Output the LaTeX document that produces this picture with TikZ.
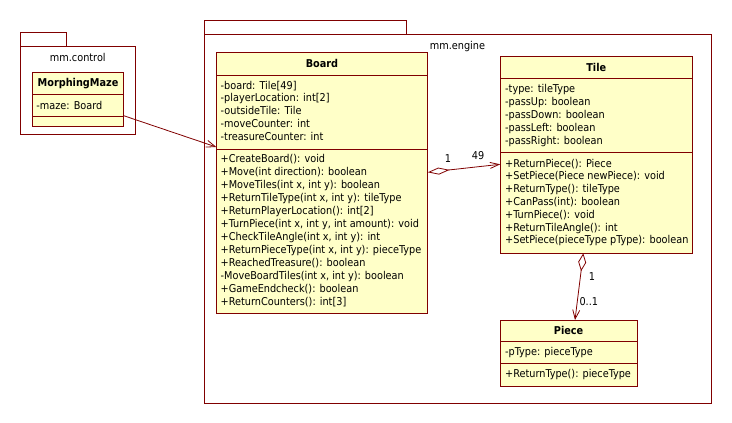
\documentclass[tikz,border=0pt]{standalone}
\usepackage{fontspec}
\setmainfont{DejaVu Sans Condensed}
\usetikzlibrary{arrows.meta}
\definecolor{umlred}{RGB}{128,0,0}
\definecolor{umlfill}{RGB}{255,255,200}
\begin{document}
\begin{tikzpicture}[x=1pt,y=-1pt,
  box/.style={draw=umlred, line width=1pt, rectangle, inner sep=0pt, outer sep=0pt, anchor=north west},
  cls/.style={box, fill=umlfill},
  sep/.style={draw=umlred, line width=1pt},
  cname/.style={font=\fontsize{10.8}{12.8}\selectfont\bfseries, inner sep=0pt, anchor=base, text=black},
  plabel/.style={font=\fontsize{10.8}{12.8}\selectfont, inner sep=0pt, anchor=base, text=black},
  members/.style={font=\fontsize{10.8}{12.8}\selectfont, inner sep=0pt, anchor=north west, align=left, text=black},
  mult/.style={font=\fontsize{10.8}{12.8}\selectfont, inner sep=0pt, anchor=center, text=black},
  conn/.style={draw=umlred, line width=0.8pt},
]
\useasboundingbox (0,0) rectangle (732,423);
% packages
\node[box, minimum width=46pt, minimum height=13.7pt] (ctrltab) at (20,32.3) {};
\node[box, minimum width=115.7pt, minimum height=88.3pt] (ctrl) at (20,46) {};
\node[plabel] (ctrllbl) at (77.8,61.7) {mm.control};
\node[box, minimum width=202.4pt, minimum height=13.6pt] (engtab) at (204.3,20.7) {};
\node[box, minimum width=506.7pt, minimum height=369pt] (eng) at (204.3,34.3) {};
\node[plabel] (englbl) at (457.5,49.3) {mm.engine};

% MorphingMaze
\node[cls, minimum width=91.4pt, minimum height=54.4pt] (mm) at (32.3,72.3) {};
\draw[sep] (mm.west |- 0,94.7) -- (mm.east |- 0,94.7);
\draw[sep] (mm.west |- 0,116.7) -- (mm.east |- 0,116.7);
\node[cname] (mmname) at (78,86.7) {MorphingMaze};
\node[members] (mmattr) at (36.2,100) {\strut-maze: Board};

% Board
\node[cls, minimum width=211.4pt, minimum height=261pt] (board) at (216.3,52.3) {};
\draw[sep] (board.west |- 0,75) -- (board.east |- 0,75);
\draw[sep] (board.west |- 0,149) -- (board.east |- 0,149);
\node[cname] (boardname) at (322,67.3) {Board};
\node[members] (boardattr) at (220.5,80) {\strut-board: Tile[49]\\-playerLocation: int[2]\\-outsideTile: Tile\\-moveCounter: int\\-treasureCounter: int};
\node[members, font=\fontsize{10.8}{13}\selectfont] (boardops) at (220.5,153) {\strut+CreateBoard(): void\\+Move(int direction): boolean\\+MoveTiles(int x, int y): boolean\\+ReturnTileType(int x, int y): tileType\\+ReturnPlayerLocation(): int[2]\\+TurnPiece(int x, int y, int amount): void\\+CheckTileAngle(int x, int y): int\\+ReturnPieceType(int x, int y): pieceType\\+ReachedTreasure(): boolean\\-MoveBoardTiles(int x, int y): boolean\\+GameEndcheck(): boolean\\+ReturnCounters(): int[3]};

% Tile
\node[cls, minimum width=192pt, minimum height=197pt] (tile) at (500.3,56.3) {};
\draw[sep] (tile.west |- 0,78.3) -- (tile.east |- 0,78.3);
\draw[sep] (tile.west |- 0,152.3) -- (tile.east |- 0,152.3);
\node[cname] (tilename) at (596.3,71) {Tile};
\node[members] (tileattr) at (505,83.7) {\strut-type: tileType\\-passUp: boolean\\-passDown: boolean\\-passLeft: boolean\\-passRight: boolean};
\node[members] (tileops) at (505,158) {\strut+ReturnPiece(): Piece\\+SetPiece(Piece newPiece): void\\+ReturnType(): tileType\\+CanPass(int): boolean\\+TurnPiece(): void\\+ReturnTileAngle(): int\\+SetPiece(pieceType pType): boolean};

% Piece
\node[cls, minimum width=136.7pt, minimum height=66.7pt] (piece) at (500.3,320) {};
\draw[sep] (piece.west |- 0,341.7) -- (piece.east |- 0,341.7);
\draw[sep] (piece.west |- 0,363.3) -- (piece.east |- 0,363.3);
\node[cname] (piecename) at (568.6,334.3) {Piece};
\node[members] (pieceattr) at (505,346) {\strut-pType: pieceType};
\node[members] (pieceops) at (505,368.3) {\strut+ReturnType(): pieceType};

% connectors
\draw[conn, -{Straight Barb[length=9pt,width=7pt]}] (mm.east |- 0,115.7) -- (board.west |- 0,147);
\draw[conn, {Diamond[open,length=22pt,width=7pt]}-{Straight Barb[length=9pt,width=6pt]}] (board.east |- 0,172.3) -- (tile.west |- 0,164.3);
\node[mult] (m1) at (448,159) {1};
\node[mult] (m49) at (478,156) {49};
\draw[conn, {Diamond[open,length=18pt,width=8pt]}-{Straight Barb[length=9pt,width=7pt]}] (tile.south -| 583.3,0) -- (piece.north -| 575,0);
\node[mult] (m1b) at (592,276.7) {1};
\node[mult] (m01) at (588.8,301.7) {0..1};
\end{tikzpicture}
\end{document}
